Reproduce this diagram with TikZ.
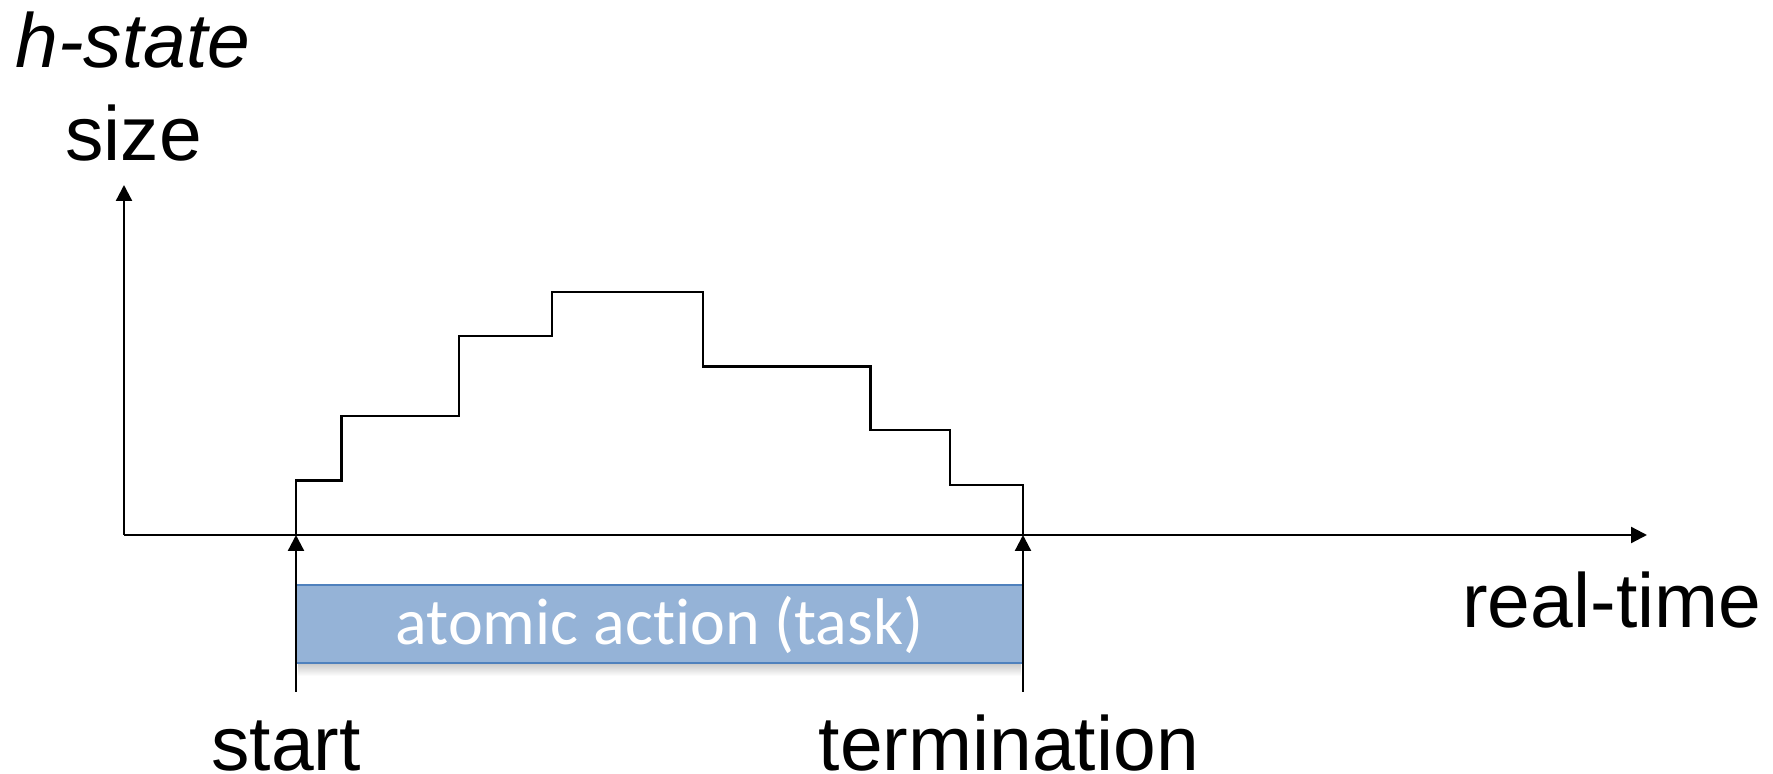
\documentclass[tikz,border=0pt]{standalone}
\usepackage{fontspec}
\setmainfont{Liberation Sans}
\newfontfamily\barfont[Ligatures={NoCommon,NoContextual}]{Carlito}
\usetikzlibrary{arrows.meta}
\definecolor{barfill}{HTML}{95B3D7}
\definecolor{baredge}{HTML}{4F81BD}
\begin{document}
\begin{tikzpicture}[x=0.5pt,y=-0.5pt,
  axis/.style={line width=1.15pt,-{Triangle[length=8pt,width=8pt]}},
  curve/.style={line width=1.1pt},
  lbl/.style={inner sep=0pt,anchor=base west,text depth=0pt,font=\fontsize{38.4}{40}\selectfont},
  bartext/.style={inner sep=0pt,anchor=base,text=white,font=\barfont\fontsize{33}{35}\selectfont}]
\useasboundingbox (0,0) rectangle (1773,774);

% axes
\coordinate (O) at (124,535);
\coordinate (ytop) at (124,185);
\coordinate (xend) at (1647,535);
\coordinate (tstart) at (296,535);
\coordinate (tend) at (1023,535);
\coordinate (sbot) at (296,692);
\coordinate (ebot) at (1023,692);

% task bar with a soft shadow beneath
\shade[top color=black!22,bottom color=white] (298,663) rectangle (1021,676);
\fill[barfill] (296,585) rectangle (1023,663);
\draw[baredge,line width=1pt] (296,585) -- (1023,585);
\draw[baredge,line width=1pt] (296,663) -- (1023,663);
\node[bartext] (task) at (659.5,645) {atomic action (task)};

\draw[axis] (O) -- (ytop);
\draw[axis] (O) -- (xend);

% h-state size over time
\draw[curve] (tstart) -- (296,480.5) -- (341.5,480.5) -- (341.5,416) -- (459,416)
  -- (459,336) -- (552,336) -- (552,292) -- (703,292) -- (703,366.5)
  -- (870.5,366.5) -- (870.5,430) -- (950,430) -- (950,485) -- (1023,485) -- (tend);

% start and termination markers
\draw[axis] (sbot) -- (tstart);
\draw[axis] (ebot) -- (tend);

% labels
\node[lbl] (hstate) at (15,68) {\itshape h-state};
\node[lbl] (size) at (65,161) {size};
\node[lbl] (realtime) at (1462,628) {real-time};
\node[lbl] (start) at (211,770) {start};
\node[lbl] (term) at (818.5,770) {termination};
\end{tikzpicture}
\end{document}
